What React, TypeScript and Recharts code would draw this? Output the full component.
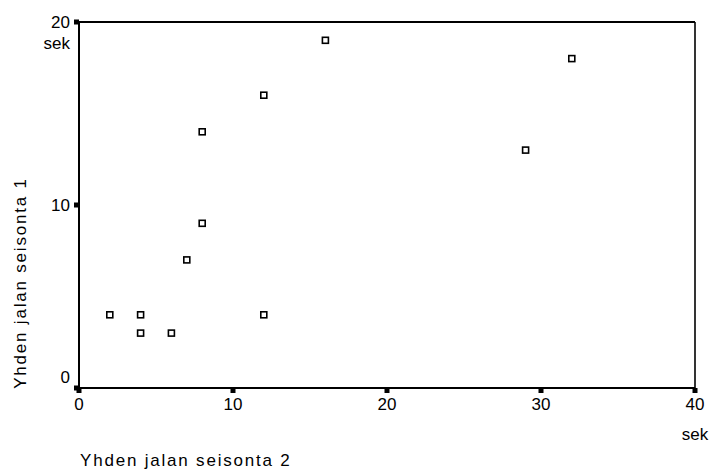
import React from 'react';
import { ScatterChart, Scatter, XAxis, YAxis, ReferenceLine } from 'recharts';

const seisonta2 = [2, 4, 4, 6, 7, 8, 8, 12, 12, 16, 29, 32];
const seisonta1 = [4, 4, 3, 3, 7, 9, 14, 16, 4, 19, 13, 18];
const xTicks = [0, 10, 20, 30, 40];
const yTicks = [0, 10, 20];
const xTitle = 'Yhden jalan seisonta 2';
const yTitle = 'Yhden jalan seisonta 1';
const unit = 'sek';

const data = seisonta2.map((x, i) => ({ x, y: seisonta1[i] }));

const FONT = '"Liberation Sans", Arial, sans-serif';
const FS = 17;

const YTick = (props: any) => {
  const { x, y, payload } = props;
  const v = payload.value;
  const ty = v === 0 ? y - 5 : y + 6;
  return (
    <g>
      <rect x={x - 5} y={y - 2.5} width={5} height={5} fill="#000" />
      <text x={x - 9} y={ty} textAnchor="end" fontSize={FS} fontFamily={FONT} fill="#000">{v}</text>
      {v === 20 && (
        <text x={x - 9} y={ty + 21} textAnchor="end" fontSize={FS} fontFamily={FONT} fill="#000">{unit}</text>
      )}
    </g>
  );
};

const XTick = (props: any) => {
  const { x, y, payload } = props;
  const v = payload.value;
  return (
    <g>
      <rect x={x - 2.5} y={y} width={5} height={5} fill="#000" />
      <text x={x} y={y + 22} textAnchor="middle" fontSize={FS} fontFamily={FONT} fill="#000">{v}</text>
      {v === 40 && (
        <text x={x} y={y + 52} textAnchor="middle" fontSize={FS} fontFamily={FONT} fill="#000">{unit}</text>
      )}
    </g>
  );
};

const SquareMark = (props: any) => {
  const { cx, cy } = props;
  return <rect x={cx - 3} y={cy - 3} width={6} height={6} fill="#fff" stroke="#000" strokeWidth={1.6} />;
};

export default function App() {
  return (
    <div style={{ position: 'absolute', left: 0, top: 0, width: 717, height: 471, background: '#fff' }}>
      <ScatterChart width={717} height={471} margin={{ top: 22, right: 22, bottom: 0, left: 0 }}>
        <XAxis
          type="number"
          dataKey="x"
          domain={[0, 40]}
          ticks={xTicks}
          height={83}
          tickSize={0}
          tickMargin={0}
          tick={<XTick />}
          axisLine={{ stroke: '#000', strokeWidth: 2 }}
          tickLine={false}
          interval={0}
        />
        <YAxis
          type="number"
          dataKey="y"
          domain={[0, 20]}
          ticks={yTicks}
          width={79}
          tickSize={0}
          tickMargin={0}
          tick={<YTick />}
          axisLine={{ stroke: '#000', strokeWidth: 2 }}
          tickLine={false}
          interval={0}
        />
        <ReferenceLine y={20} stroke="#000" strokeWidth={2} ifOverflow="visible" />
        <ReferenceLine x={40} stroke="#000" strokeWidth={1.6} ifOverflow="visible" />
        <Scatter data={data} shape={<SquareMark />} isAnimationActive={false} />
      </ScatterChart>
      <svg width={717} height={471} style={{ position: 'absolute', left: 0, top: 0, pointerEvents: 'none' }}>
        <text x={80} y={466} fontSize={FS} letterSpacing={1.8} fontFamily={FONT} fill="#000">{xTitle}</text>
        <text
          x={0}
          y={0}
          transform="translate(26, 283) rotate(-90)"
          textAnchor="middle"
          fontSize={FS}
          letterSpacing={1.8}
          fontFamily={FONT}
          fill="#000"
        >
          {yTitle}
        </text>
      </svg>
    </div>
  );
}
